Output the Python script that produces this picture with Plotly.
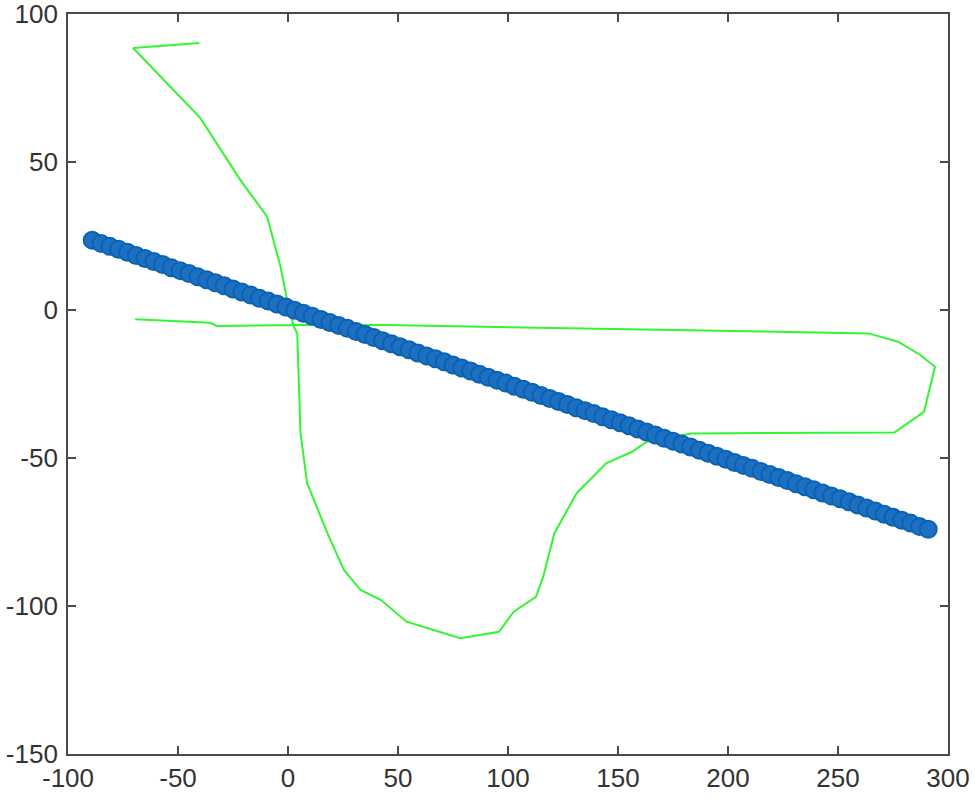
import plotly.graph_objects as go

# green trajectory
path_x = [-40.3, -53.5, -70.4, -39.9, -21.6, -9.5, -3.4, -0.4, 2.6, 4.2, 5.7, 8.7,
          17.9, 25.4, 33.0, 42.3, 53.9, 78.3, 95.9, 102.6, 112.7, 116.0, 121.1, 131.2,
          144.6, 156.4, 163.1, 183.2, 275.6, 289.1, 294.1, 287.4, 277.3, 263.9, 142.4,
          44.4, 2.5, -32.3, -35.3, -69.5]
path_y = [90.2, 89.5, 88.5, 64.9, 43.9, 31.5, 14.6, 3.4, -5.6, -7.9, -41.6, -58.5,
          -75.4, -87.8, -94.6, -98.0, -105.3, -110.9, -108.7, -101.9, -96.9, -90.1, -75.4, -61.9,
          -51.8, -47.9, -44.5, -41.7, -41.4, -34.4, -19.2, -15.2, -10.7, -7.9, -6.4,
          -5.1, -5.1, -5.4, -4.3, -3.1]

# blue circles
pts_x = [-89, -85, -81, -77, -73, -69, -65, -61, -57, -53, -49, -45, -41, -37, -33, -29,
         -25, -21, -17, -13, -9, -5, -1, 3, 7, 11, 15, 19, 23, 27, 31, 35,
         39, 43, 47, 51, 55, 59, 63, 67, 71, 75, 79, 83, 87, 91, 95, 99,
         103, 107, 111, 115, 119, 123, 127, 131, 135, 139, 143, 147, 151, 155, 159, 163,
         167, 171, 175, 179, 183, 187, 191, 195, 199, 203, 207, 211, 215, 219, 223, 227,
         231, 235, 239, 243, 247, 251, 255, 259, 263, 267, 271, 275, 279, 283, 287, 291]
pts_y = [23.6, 22.5, 21.5, 20.5, 19.5, 18.4, 17.4, 16.4, 15.4, 14.3, 13.3, 12.3, 11.2, 10.2, 9.2, 8.2,
         7.1, 6.1, 5.1, 4.0, 3.0, 2.0, 1.0, -0.1, -1.1, -2.1, -3.2, -4.2, -5.2, -6.2, -7.3, -8.3,
         -9.3, -10.4, -11.4, -12.4, -13.4, -14.5, -15.5, -16.5, -17.5, -18.6, -19.6, -20.6, -21.7, -22.7, -23.7, -24.7,
         -25.8, -26.8, -27.8, -28.9, -29.9, -30.9, -31.9, -33.0, -34.0, -35.0, -36.1, -37.1, -38.1, -39.1,
         -40.2, -41.2, -42.2, -43.3, -44.3, -45.3, -46.3, -47.4, -48.4, -49.4, -50.4, -51.5, -52.5, -53.5,
         -54.6, -55.6, -56.6, -57.6, -58.7, -59.7, -60.7, -61.8, -62.8, -63.8, -64.8, -65.9, -66.9, -67.9,
         -69.0, -70.0, -71.0, -72.0, -73.1, -74.1]

x_ticks = [-100, -50, 0, 50, 100, 150, 200, 250, 300]
y_ticks = [-150, -100, -50, 0, 50, 100]

fig = go.Figure()

fig.add_trace(go.Scatter(x=path_x, y=path_y, mode='lines',
                         line=dict(color='#33f533', width=2)))

fig.add_trace(go.Scatter(x=pts_x, y=pts_y, mode='markers',
                         marker=dict(symbol='circle', size=17, color='#1d6fc2',
                                     line=dict(width=2, color='#0b62b3'))))

axis_style = dict(showgrid=False, zeroline=False, showline=True, mirror='allticks',
                  linecolor='#4a4a4a', linewidth=1.8, ticks='inside', ticklen=8,
                  tickcolor='#4a4a4a', tickwidth=1.5, automargin=False,
                  ticklabeloverflow='allow',
                  tickfont=dict(family='Liberation Sans, Arial, sans-serif', size=26, color='#333333'))

fig.update_layout(
    width=975, height=805,
    margin=dict(l=68, r=27, t=14, b=51),
    plot_bgcolor='white', paper_bgcolor='white',
    showlegend=False,
    xaxis=dict(range=[-100, 300], tickvals=x_ticks, ticktext=[str(v) for v in x_ticks], **axis_style),
    yaxis=dict(range=[-150, 100], tickvals=y_ticks, ticktext=[str(v) for v in y_ticks],
               ticklabelstandoff=3, **axis_style),
)

# page has a default body margin; drop it so the figure sits at the corner
fig.write_html("out.html", config={'displayModeBar': False},
               post_script="document.body.style.margin='0px';")
